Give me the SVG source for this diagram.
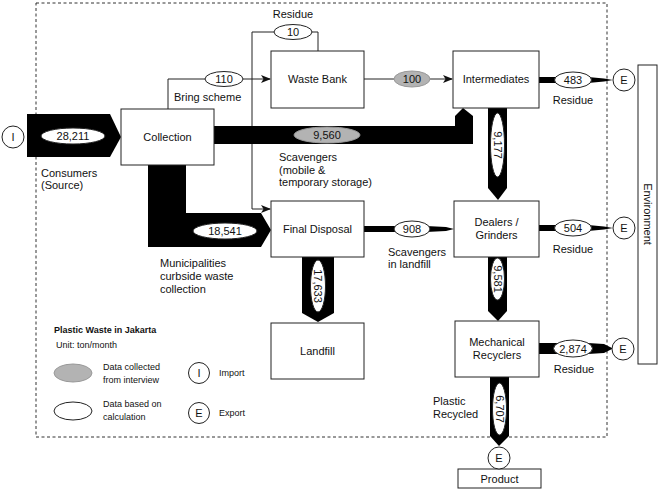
<svg xmlns="http://www.w3.org/2000/svg" width="661" height="492" viewBox="0 0 661 492">
<defs>
<style>
text{font-family:"Liberation Sans",Arial,sans-serif;font-size:11px;fill:#111}
.c{text-anchor:middle}
.sm{font-size:9px}
.b{font-weight:bold}
.box{fill:#fff;stroke:#222;stroke-width:1}
.flow{fill:#000;stroke:none}
.thin{fill:none;stroke:#222;stroke-width:1}
.ew{fill:#fff;stroke:#222;stroke-width:1}
.eg{fill:#b3b3b3;stroke:#999;stroke-width:1}
.io{fill:#fff;stroke:#222;stroke-width:1}
</style>
<marker id="arr" viewBox="0 0 10 8" refX="9" refY="4" markerWidth="10" markerHeight="8" markerUnits="userSpaceOnUse" orient="auto">
<path d="M0,0 L10,4 L0,8 L2.5,4 z" fill="#111"/>
</marker>
</defs>
<rect width="661" height="492" fill="#fff"/>
<rect x="36" y="3" width="571" height="434" fill="none" stroke="#333" stroke-width="1" stroke-dasharray="3,2.5"/>

<g id="connectors">
<path class="thin" d="M168,109 V79 H270" marker-end="url(#arr)"/>
<path class="thin" d="M318,51 V32 H252 V209 H270" marker-end="url(#arr)"/>
<path class="thin" d="M364,79 H452" marker-end="url(#arr)"/>
<polygon class="flow" points="27,114 110,114 121,137 110,157 27,157"/>
<polygon class="flow" points="214,126 455,126 455,116 463,108 473,116 473,144 214,144"/>
<polygon class="flow" points="148,165 186,165 186,213 261,213 271,230 261,247 148,247"/>
<polygon class="flow" points="488,108 507,108 507,188 498,200 488,188"/>
<polygon class="flow" points="488,257 507,257 507,311 498,321 488,311"/>
<polygon class="flow" points="490,377 509,377 509,436 499,446 490,436"/>
<polygon class="flow" points="302,257 334,257 334,313 318,322 302,313"/>
<rect class="flow" x="539" y="77" width="20" height="6"/>
<polygon class="flow" points="588,77 604,78.5 613,80 604,81.5 588,83"/>
<rect class="flow" x="539" y="225" width="20" height="6"/>
<polygon class="flow" points="588,225 604,226.5 613,228 604,229.5 588,231"/>
<rect class="flow" x="539" y="343" width="20" height="11"/>
<polygon class="flow" points="588,343 604,344 613,348.5 604,353 588,354"/>
<rect class="flow" x="364" y="226" width="32" height="6"/>
<polygon class="flow" points="426,226 446,227 454,229 446,231 426,232"/>

<ellipse class="ew" cx="73" cy="136" rx="32" ry="8"/>
<text class="c" x="73" y="140">28,211</text>
<ellipse class="ew" cx="224" cy="79" rx="19" ry="7.5"/>
<text class="c" x="224" y="83">110</text>
<ellipse class="ew" cx="293" cy="32" rx="19" ry="7.5"/>
<text class="c" x="293" y="36">10</text>
<ellipse class="eg" cx="412" cy="79" rx="18" ry="8"/>
<text class="c" x="412" y="83">100</text>
<ellipse class="eg" cx="327" cy="135" rx="33" ry="8"/>
<text class="c" x="327" y="139">9,560</text>
<ellipse class="ew" cx="225" cy="231" rx="32" ry="8"/>
<text class="c" x="225" y="235">18,541</text>
<ellipse class="ew" cx="412" cy="229" rx="18" ry="8"/>
<text class="c" x="412" y="233">908</text>
<ellipse class="ew" cx="573" cy="80" rx="18.5" ry="8"/>
<text class="c" x="573" y="84">483</text>
<ellipse class="ew" cx="573" cy="228" rx="18.5" ry="8"/>
<text class="c" x="573" y="232">504</text>
<ellipse class="ew" cx="573" cy="348.5" rx="19.5" ry="8.5"/>
<text class="c" x="573" y="352.5">2,874</text>
<ellipse class="ew" cx="497.5" cy="145" rx="7" ry="32"/>
<text class="c" transform="translate(497.5,145) rotate(90)" y="4">9,177</text>
<ellipse class="ew" cx="497.5" cy="279" rx="7" ry="21"/>
<text class="c" transform="translate(497.5,279) rotate(90)" y="4">9,581</text>
<ellipse class="ew" cx="499.5" cy="409" rx="7" ry="26"/>
<text class="c" transform="translate(499.5,409) rotate(90)" y="4">6,707</text>
<ellipse class="ew" cx="318" cy="286" rx="7.5" ry="26"/>
<text class="c" transform="translate(318,286) rotate(90)" y="4">17,633</text>
</g>

<g id="node-import">
<circle class="io" cx="13" cy="137" r="11"/>
<text class="c" x="13" y="141">I</text>
</g>
<g id="node-collection">
<rect class="box" x="121" y="109" width="93" height="56"/>
<text class="c" x="167.5" y="141">Collection</text>
</g>
<g id="node-wastebank">
<rect class="box" x="271" y="51" width="93" height="57"/>
<text class="c" x="317.5" y="83">Waste Bank</text>
</g>
<g id="node-intermediates">
<rect class="box" x="453" y="51" width="86" height="57"/>
<text class="c" x="496" y="83">Intermediates</text>
</g>
<g id="node-finaldisposal">
<rect class="box" x="271" y="201" width="93" height="56"/>
<text class="c" x="317.5" y="233">Final Disposal</text>
</g>
<g id="node-dealers">
<rect class="box" x="454" y="201" width="85" height="56"/>
<text class="c" x="496.5" y="226">Dealers /</text>
<text class="c" x="496.5" y="239">Grinders</text>
</g>
<g id="node-mechanical">
<rect class="box" x="455" y="321" width="84" height="56"/>
<text class="c" x="497" y="346">Mechanical</text>
<text class="c" x="497" y="359">Recyclers</text>
</g>
<g id="node-landfill">
<rect class="box" x="271" y="323" width="93" height="56"/>
<text class="c" x="317.5" y="355">Landfill</text>
</g>
<g id="node-product">
<rect class="box" x="458" y="469" width="83" height="19"/>
<text class="c" x="499.5" y="483">Product</text>
</g>
<g id="node-environment">
<rect class="box" x="638" y="65" width="19" height="299"/>
<text class="c" transform="translate(648,214) rotate(90)" y="4">Environment</text>
</g>
<g id="node-export1">
<circle class="io" cx="624" cy="80" r="11"/>
<text class="c" x="624" y="84">E</text>
</g>
<g id="node-export2">
<circle class="io" cx="624" cy="228" r="11"/>
<text class="c" x="624" y="232">E</text>
</g>
<g id="node-export3">
<circle class="io" cx="623" cy="349" r="11"/>
<text class="c" x="623" y="353">E</text>
</g>
<g id="node-export4">
<circle class="io" cx="499" cy="458" r="11"/>
<text class="c" x="499" y="462">E</text>
</g>

<g id="labels">
<text class="c" x="293" y="18">Residue</text>
<text x="174" y="101">Bring scheme</text>
<text x="41" y="177">Consumers</text>
<text x="41" y="189">(Source)</text>
<text x="279" y="161">Scavengers</text>
<text x="279" y="173.5">(mobile &amp;</text>
<text x="279" y="186">temporary storage)</text>
<text x="160" y="267">Municipalities</text>
<text x="160" y="280">curbside waste</text>
<text x="160" y="293">collection</text>
<text x="388" y="256">Scavengers</text>
<text x="388" y="268">in landfill</text>
<text class="c" x="573" y="104">Residue</text>
<text class="c" x="573" y="253">Residue</text>
<text class="c" x="574" y="373">Residue</text>
<text x="433" y="405">Plastic</text>
<text x="433" y="418">Recycled</text>
</g>

<g id="legend">
<text class="sm b" x="54" y="333">Plastic Waste in Jakarta</text>
<text class="sm" x="56" y="348">Unit: ton/month</text>
<ellipse class="eg" cx="73" cy="373" rx="19" ry="9"/>
<text class="sm" x="103" y="370">Data collected</text>
<text class="sm" x="103" y="383">from interview</text>
<ellipse class="ew" cx="73" cy="411" rx="19" ry="9"/>
<text class="sm" x="103" y="407">Data based on</text>
<text class="sm" x="103" y="420">calculation</text>
<circle class="io" cx="199" cy="373" r="10.5"/>
<text class="c" x="199" y="377">I</text>
<text class="sm" x="219" y="376">Import</text>
<circle class="io" cx="199" cy="413" r="10.5"/>
<text class="c" x="199" y="417">E</text>
<text class="sm" x="219" y="416">Export</text>
</g>
</svg>
